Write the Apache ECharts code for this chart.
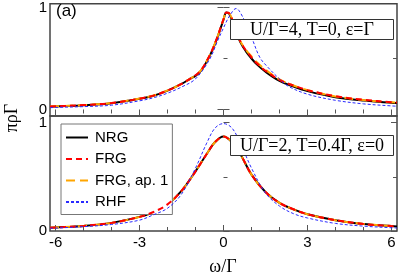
<!DOCTYPE html>
<html><head><meta charset="utf-8">
<script src="https://cdn.jsdelivr.net/npm/echarts@6/dist/echarts.min.js"></script>
<style>html,body{margin:0;padding:0;background:#fff}#c{width:399px;height:276px}</style>
</head><body><div id="c"></div>
<script>
// ---- data ----
var omegaTop = [-6.2,-6,-5,-4,-3,-2.5,-2,-1.5,-1.2,-1,-0.8,-0.6,-0.4,-0.2,0,0.1,0.2,0.4,0.6,0.8,1,1.2,1.5,2,2.5,3,4,5,6,6.2];
var nrgTop   = [0.027,0.03,0.042,0.062,0.105,0.135,0.185,0.25,0.30,0.33,0.38,0.47,0.58,0.72,0.88,0.95,0.94,0.80,0.66,0.57,0.50,0.44,0.37,0.28,0.225,0.18,0.12,0.087,0.066,0.063];
var frgTop   = [0.028,0.031,0.043,0.063,0.106,0.136,0.186,0.25,0.30,0.335,0.385,0.475,0.585,0.725,0.885,0.95,0.945,0.81,0.67,0.58,0.51,0.45,0.38,0.29,0.235,0.19,0.13,0.095,0.072,0.069];
var frg1Top  = [0.028,0.031,0.043,0.063,0.107,0.137,0.187,0.25,0.30,0.335,0.385,0.475,0.585,0.725,0.885,0.95,0.945,0.81,0.67,0.585,0.52,0.46,0.39,0.295,0.235,0.19,0.128,0.092,0.07,0.067];
var omegaRhfTop = [-6.2,-6,-5,-4,-3,-2.5,-2,-1.5,-1,-0.5,-0.2,0,0.2,0.45,0.7,1,1.3,1.6,2,2.3,3,4,5,6,6.2];
var rhfTop   = [0.018,0.02,0.028,0.042,0.085,0.115,0.16,0.22,0.30,0.49,0.68,0.80,0.91,0.99,0.90,0.71,0.51,0.41,0.30,0.23,0.15,0.09,0.055,0.035,0.032];

var omegaBot = [-6.2,-6,-5,-4,-3,-2.5,-2,-1.5,-1,-0.6,-0.3,0,0.3,0.6,1,1.5,2,2.5,3,4,5,6,6.2];
var nrgBot   = [0.03,0.032,0.047,0.075,0.13,0.175,0.245,0.37,0.55,0.71,0.82,0.87,0.82,0.71,0.52,0.36,0.26,0.20,0.155,0.10,0.065,0.045,0.042];
var frgBot   = [0.03,0.032,0.047,0.075,0.13,0.175,0.245,0.37,0.55,0.71,0.82,0.87,0.82,0.71,0.52,0.36,0.26,0.20,0.155,0.10,0.065,0.045,0.042];
var frg1Bot  = [0.03,0.032,0.047,0.075,0.13,0.175,0.245,0.37,0.55,0.71,0.82,0.87,0.82,0.71,0.52,0.36,0.26,0.20,0.155,0.10,0.065,0.045,0.042];
var rhfBot   = [0.025,0.027,0.04,0.06,0.10,0.15,0.21,0.34,0.58,0.81,0.95,0.99,0.95,0.81,0.58,0.35,0.23,0.16,0.12,0.07,0.045,0.03,0.028];

var xMajor = [-6,-3,0,3,6];
var xMinor = [-5,-4,-2,-1,1,2,4,5];
var yMajor = [0,1];
var yMinor = [0.5];
var seriesNames = ['NRG','FRG','FRG, ap. 1','RHF'];
var boxTop = 'U/Γ=4, T=0, ε=Γ';
var boxBot = 'U/Γ=2, T=0.4Γ, ε=0';

function pairs(xs, ys){ return xs.map(function(x,i){return [x, ys[i]];}); }

var SANS = 'Liberation Sans, Arial, sans-serif';
var SERIF = 'Liberation Serif, Times New Roman, serif';
var TICK = '#555';

function xa(grid, pos, opt){
  return Object.assign({type:'value', gridIndex:grid, position:pos, min:-6.2, max:6.2,
    axisLine:{show:false}, splitLine:{show:false}, axisLabel:{show:false}, axisTick:{show:false}}, opt||{});
}
function ya(grid, pos, min, max, opt){
  return Object.assign({type:'value', gridIndex:grid, position:pos, min:min, max:max,
    axisLine:{show:false}, splitLine:{show:false}, axisLabel:{show:false}, axisTick:{show:false}}, opt||{});
}
function ticks(vals, len){ return {show:true, inside:true, length:len, customValues:vals, lineStyle:{color:TICK, width:1}}; }

var xAxes = [
  xa(0,'bottom'),
  xa(0,'top',{axisTick:ticks(xMajor,6)}),
  xa(0,'top',{axisTick:ticks(xMinor,4)}),
  xa(1,'bottom',{axisTick:ticks(xMajor,6), axisLabel:{show:true, customValues:xMajor, margin:4, color:'#000', fontSize:15, fontFamily:SANS}}),
  xa(1,'bottom',{axisTick:ticks(xMinor,4)})
];
var T0=-0.064, T1=1.038, B0=0, B1=1.06;
var yAxes = [
  ya(0,'left',T0,T1,{axisTick:ticks(yMajor,6), axisLabel:{show:true, customValues:yMajor, margin:3, color:'#000', fontSize:15, fontFamily:SANS}}),
  ya(0,'left',T0,T1,{axisTick:ticks(yMinor,4)}),
  ya(0,'right',T0,T1,{axisTick:ticks(yMajor,6)}),
  ya(0,'right',T0,T1,{axisTick:ticks(yMinor,4)}),
  ya(1,'left',B0,B1,{axisTick:ticks(yMajor,6), axisLabel:{show:true, customValues:yMajor, margin:3, color:'#000', fontSize:15, fontFamily:SANS}}),
  ya(1,'left',B0,B1,{axisTick:ticks(yMinor,4)}),
  ya(1,'right',B0,B1,{axisTick:ticks(yMajor,6)}),
  ya(1,'right',B0,B1,{axisTick:ticks(yMinor,4)})
];

var styles = {
  'NRG': {color:'#000000', width:2, type:'solid', z:2},
  'FRG': {color:'#ff0000', width:2, type:[6,4], z:4},
  'FRG, ap. 1': {color:'#ffa500', width:2, type:[9,5], z:3},
  'RHF': {color:'#2a2aff', width:1, type:[3,2], z:5}
};
function line(name, data, xi, yi){
  var s = styles[name];
  return {type:'line', name:name, data:data, xAxisIndex:xi, yAxisIndex:yi, smooth:0.35,
    symbol:'none', showSymbol:false, z:s.z, silent:true, animation:false,
    lineStyle:{color:s.color, width:s.width, type:s.type}, itemStyle:{color:s.color}};
}
var series = [
  line('NRG', pairs(omegaTop,nrgTop),0,0),
  line('FRG, ap. 1', pairs(omegaTop,frg1Top),0,0),
  line('FRG', pairs(omegaTop,frgTop),0,0),
  line('RHF', pairs(omegaRhfTop,rhfTop),0,0),
  line('NRG', pairs(omegaBot,nrgBot),3,4),
  line('FRG, ap. 1', pairs(omegaBot,frg1Bot),3,4),
  line('FRG', pairs(omegaBot,frgBot),3,4),
  line('RHF', pairs(omegaBot,rhfBot),3,4)
];

var chart = echarts.init(document.getElementById('c'), null, {renderer:'canvas'});
chart.setOption({
  animation:false,
  backgroundColor:'#fff',
  grid:[
    {left:50, right:2, top:1, height:115, show:true, borderColor:'#444', borderWidth:1.5, backgroundColor:'transparent'},
    {left:50, right:2, top:116, height:115, show:true, borderColor:'#444', borderWidth:1.5, backgroundColor:'transparent'}
  ],
  xAxis:xAxes,
  yAxis:yAxes,
  legend:{
    data:seriesNames, orient:'vertical', left:61, top:124,
    itemWidth:22, itemHeight:10, itemGap:6.5,
    padding:[6,4,5,4], borderColor:'#777', borderWidth:1, backgroundColor:'#fff',
    selectedMode:false,
    itemStyle:{opacity:0},
    textStyle:{fontFamily:SANS, fontSize:15, color:'#000', padding:[0,0,0,2]}
  },
  series:series,
  graphic:[
    {type:'text', left:56, top:3, style:{text:'(a)', font:'17px '+SANS, fill:'#000'}},
    {type:'rect', shape:{x:230.5,y:19.5,width:163,height:20}, style:{fill:'#fff', stroke:'#333', lineWidth:1}, z:10},
    {type:'text', x:312, y:30, style:{text:boxTop, font:'18px '+SERIF, fill:'#000', align:'center', verticalAlign:'middle'}, z:11},
    {type:'rect', shape:{x:230.5,y:135.5,width:163,height:20}, style:{fill:'#fff', stroke:'#333', lineWidth:1}, z:10},
    {type:'text', x:312, y:146, style:{text:boxBot, font:'18px '+SERIF, fill:'#000', align:'center', verticalAlign:'middle'}, z:11},
    {type:'text', x:12, y:118, rotation:Math.PI/2, style:{text:'πρΓ', font:'18px '+SERIF, fill:'#000', align:'center', verticalAlign:'middle'}},
    {type:'text', x:223, y:267, style:{text:'ω/Γ', font:'18px '+SERIF, fill:'#000', align:'center', verticalAlign:'middle'}}
  ]
});
</script></body></html>
